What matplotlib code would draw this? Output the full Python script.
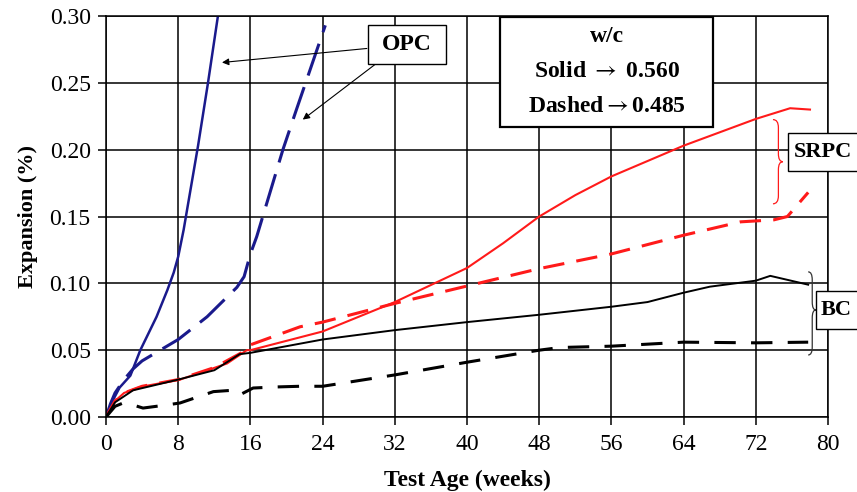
import matplotlib
matplotlib.use("Agg")
import matplotlib.pyplot as plt
from matplotlib.path import Path
from matplotlib.patches import PathPatch, Rectangle

plt.rcParams['font.family'] = ['Liberation Serif', 'DejaVu Serif']
plt.rcParams['mathtext.fontset'] = 'stix'

# Expansion (%) versus test age (weeks)
opc_solid_x = [0, 0.8, 1.5, 2.7, 3.8, 5.6, 6.8, 7.5, 8.0, 8.6, 10.2, 11.3, 12.4]
opc_solid_y = [0, 0.013, 0.022, 0.031, 0.050, 0.075, 0.095, 0.108, 0.120, 0.140, 0.203, 0.250, 0.300]

opc_dash_x = [0, 0.5, 1.0, 2.0, 3.0, 4.0, 6.0, 8.0, 11.2, 14.5, 15.3, 16.0, 16.7, 19.6, 21.1, 24.3]
opc_dash_y = [0, 0.010, 0.018, 0.028, 0.036, 0.042, 0.050, 0.058, 0.075, 0.097, 0.105, 0.122, 0.135, 0.200, 0.230, 0.293]

srpc_solid_x = [0, 1, 2, 3.8, 8.2, 13.4, 15.6, 16, 24, 32, 40, 44, 48, 52, 56, 64, 72, 75.8, 78]
srpc_solid_y = [0, 0.012, 0.018, 0.0225, 0.028, 0.040, 0.050, 0.050, 0.064, 0.086, 0.1115, 0.130, 0.150, 0.166, 0.180, 0.203, 0.223, 0.231, 0.230]

srpc_dash_x = [0, 1, 2, 4, 8, 12, 15, 16, 21.5, 24, 32, 40, 48, 56, 64, 70.3, 74, 75.5, 77.8]
srpc_dash_y = [0, 0.012, 0.018, 0.023, 0.028, 0.037, 0.048, 0.054, 0.0675, 0.071, 0.085, 0.098, 0.111, 0.122, 0.136, 0.146, 0.1475, 0.150, 0.168]

bc_solid_x = [0, 1, 3, 8, 12, 14.8, 16, 24, 32, 40, 48, 56, 60, 64, 66.9, 72, 73.6, 77.8]
bc_solid_y = [0, 0.011, 0.020, 0.028, 0.035, 0.047, 0.048, 0.058, 0.065, 0.071, 0.0765, 0.0825, 0.086, 0.093, 0.0975, 0.102, 0.1056, 0.099]

bc_dash_x = [0, 1, 1.9, 3.0, 4.1, 6.7, 8.2, 11.9, 14.0, 14.8, 16.3, 18.9, 21.5, 24, 32, 40, 48, 50.3, 56, 64, 72, 77.8]
bc_dash_y = [0, 0.008, 0.0105, 0.009, 0.0067, 0.009, 0.0105, 0.019, 0.020, 0.0165, 0.0217, 0.0225, 0.023, 0.023, 0.0315, 0.041, 0.050, 0.052, 0.053, 0.056, 0.0555, 0.056]

x_ticks = [0, 8, 16, 24, 32, 40, 48, 56, 64, 72, 80]
y_ticks = [0.00, 0.05, 0.10, 0.15, 0.20, 0.25, 0.30]

navy = '#1a1a8c'
red = '#ff1a1a'

fig = plt.figure(figsize=(8.57, 4.92), dpi=100)
ax = fig.add_axes([0.1237, 0.1524, 0.9662 - 0.1237, 0.9675 - 0.1524])

ax.plot(opc_solid_x, opc_solid_y, color=navy, lw=1.8)
ax.plot(opc_dash_x, opc_dash_y, color=navy, lw=2.2, dashes=(11, 4))
ax.plot(srpc_solid_x, srpc_solid_y, color=red, lw=1.5)
ax.plot(srpc_dash_x, srpc_dash_y, color=red, lw=2.2, dashes=(7, 4))
ax.plot(bc_solid_x, bc_solid_y, color='black', lw=1.4)
ax.plot(bc_dash_x, bc_dash_y, color='black', lw=2.2, dashes=(7, 5))

ax.set_xlim(0, 80)
ax.set_ylim(0, 0.30)
ax.set_xticks(x_ticks)
ax.set_yticks(y_ticks)
ax.set_yticklabels([f"{v:.2f}" for v in y_ticks])
ax.grid(True, color='black', lw=1.1)
ax.set_axisbelow(True)
for s in ax.spines.values():
    s.set_linewidth(1.1)
ax.tick_params(direction='out', length=6, width=1.1, labelsize=17, pad=6)
ax.tick_params(axis='y', pad=5)

ax.set_xlabel('Test Age (weeks)', fontsize=17, fontweight='bold', labelpad=11)
ax.set_ylabel('Expansion (%)', fontsize=16, fontweight='bold', labelpad=8)


def add_box(x0, x1, y0, y1, lw=1.0):
    ax.add_patch(Rectangle((x0, y0), x1 - x0, y1 - y0, fc='white', ec='black',
                           lw=lw, clip_on=False, zorder=5))


def add_brace(xl, xm, xt, ytop, ybot, ymid, color, lw=0.9):
    r = 0.006
    verts = [(xl, ytop), (xm, ytop), (xm, ytop - r),
             (xm, ymid + r),
             (xm, ymid), (xt, ymid),
             (xm, ymid), (xm, ymid - r),
             (xm, ybot + r),
             (xm, ybot), (xl, ybot)]
    codes = [Path.MOVETO, Path.CURVE3, Path.CURVE3,
             Path.LINETO,
             Path.CURVE3, Path.CURVE3,
             Path.CURVE3, Path.CURVE3,
             Path.LINETO,
             Path.CURVE3, Path.CURVE3]
    ax.add_patch(PathPatch(Path(verts, codes), fc='none', ec=color, lw=lw,
                           clip_on=False, zorder=5))


# OPC label and arrows
add_box(29.03, 37.67, 0.2644, 0.2929)
ax.text(33.35, 0.2786, 'OPC', ha='center', va='center', fontsize=17,
        fontweight='bold', zorder=6)
arrow = dict(arrowstyle='-|>', color='black', lw=0.8, mutation_scale=10,
             shrinkA=0, shrinkB=0)
ax.annotate('', xy=(12.85, 0.2652), xytext=(28.9, 0.2757), arrowprops=arrow, zorder=6)
ax.annotate('', xy=(21.8, 0.2225), xytext=(29.8, 0.2637), arrowprops=arrow, zorder=6)

# w/c legend box
add_box(43.66, 67.26, 0.2172, 0.2996, lw=1.6)
ax.text(55.46, 0.2847, 'w/c', ha='center', va='center', fontsize=17,
        fontweight='bold', zorder=6)
ax.text(55.46, 0.2584, r'Solid $\rightarrow$ 0.560', ha='center', va='center',
        fontsize=17, fontweight='bold', zorder=6)
ax.text(55.46, 0.2322, r'Dashed$\rightarrow$0.485', ha='center', va='center',
        fontsize=17, fontweight='bold', zorder=6)

# SRPC bracket and label
add_brace(73.9, 74.5, 75.0, 0.2225, 0.1595, 0.191, red)
add_box(75.57, 83.4, 0.1843, 0.2127)
ax.text(79.4, 0.1985, 'SRPC', ha='center', va='center', fontsize=16,
        fontweight='bold', zorder=6, clip_on=False)

# BC bracket and label
add_brace(77.8, 78.25, 78.65, 0.1086, 0.0464, 0.0801, '#333333')
add_box(78.67, 83.4, 0.0659, 0.0944)
ax.text(80.95, 0.0801, 'BC', ha='center', va='center', fontsize=16,
        fontweight='bold', zorder=6, clip_on=False)

fig.savefig('out.png', dpi=100)
